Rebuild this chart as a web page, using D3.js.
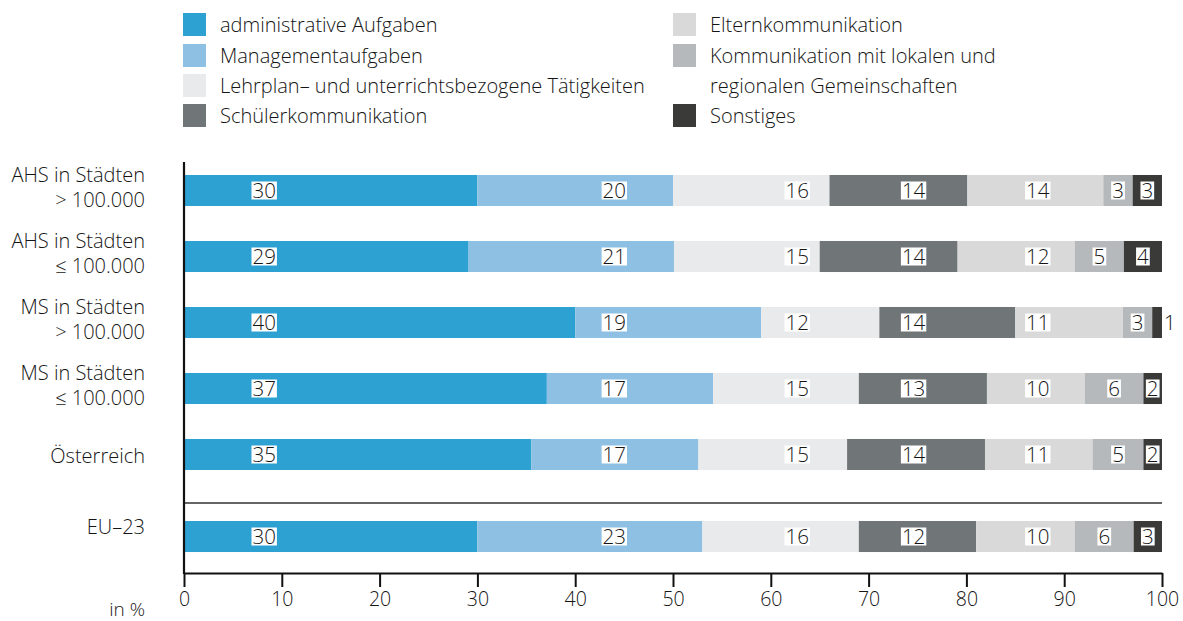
<!DOCTYPE html>
<html>
<head>
<meta charset="utf-8">
<script src="https://cdn.jsdelivr.net/npm/d3@7"></script>
<style>
  body { margin: 0; background: #fff; }
  svg text { font-family: "Open Sans", sans-serif; font-weight: 350; fill: #151515; }
</style>
</head>
<body>
<svg id="chart" width="1183" height="621"></svg>
<script>
// ---------- data ----------
const categories = [
  ["AHS in Städten", "> 100.000"],
  ["AHS in Städten", "≤ 100.000"],
  ["MS in Städten", "> 100.000"],
  ["MS in Städten", "≤ 100.000"],
  ["Österreich"],
  ["EU–23"]
];
const categoryKeys = ["AHS>", "AHS<=", "MS>", "MS<=", "AT", "EU"];
const mainGroup = ["AHS>", "AHS<=", "MS>", "MS<=", "AT"];
const compareGroup = ["EU"];

const seriesNames = [
  "administrative Aufgaben",
  "Managementaufgaben",
  "Lehrplan– und unterrichtsbezogene Tätigkeiten",
  "Schülerkommunikation",
  "Elternkommunikation",
  "Kommunikation mit lokalen und\nregionalen Gemeinschaften",
  "Sonstiges"
];
const seriesColors = ["#2ea1d3", "#8dc0e2", "#e9eaec", "#707577", "#d9d9d9", "#b6b9bc", "#3a3a38"];

// segment values per category (%)
const valuesAHSbig   = [30.0, 20.0, 16.0, 14.1, 13.9, 3.0, 3.0];
const valuesAHSsmall = [29.1, 21.0, 14.9, 14.1, 12.0, 5.0, 3.9];
const valuesMSbig    = [40.0, 19.0, 12.1, 13.9, 11.0, 3.0, 1.0];
const valuesMSsmall  = [37.1, 17.0, 14.9, 13.1, 10.0, 6.0, 1.9];
const valuesAT       = [35.5, 17.1, 15.2, 14.1, 11.0, 5.2, 1.9];
const valuesEU       = [30.0, 23.0, 16.0, 12.0, 10.1, 6.0, 2.9];
// printed labels
const labelsAHSbig   = ["30", "20", "16", "14", "14", "3", "3"];
const labelsAHSsmall = ["29", "21", "15", "14", "12", "5", "4"];
const labelsMSbig    = ["40", "19", "12", "14", "11", "3", "1"];
const labelsMSsmall  = ["37", "17", "15", "13", "10", "6", "2"];
const labelsAT       = ["35", "17", "15", "14", "11", "5", "2"];
const labelsEU       = ["30", "23", "16", "12", "10", "6", "3"];

const xTicks = [0, 10, 20, 30, 40, 50, 60, 70, 80, 90, 100];
const axisUnit = "in %";

const allValues = [valuesAHSbig, valuesAHSsmall, valuesMSbig, valuesMSsmall, valuesAT, valuesEU];
const allLabels = [labelsAHSbig, labelsAHSsmall, labelsMSbig, labelsMSsmall, labelsAT, labelsEU];

// ---------- layout ----------
const svg = d3.select("#chart");
const x = d3.scaleLinear().domain([0, 100]).range([184, 1162]);
const yMain = d3.scaleBand().domain(mainGroup).range([157.5, 487.5]).paddingInner(0.53).paddingOuter(0.265);
const yComp = d3.scaleBand().domain(compareGroup).range([505, 568]).paddingInner(0).paddingOuter(0.516);
const yPos = k => mainGroup.includes(k) ? yMain(k) : yComp(k);
const bandH = yMain.bandwidth();

// stacked rows
const rows = categoryKeys.map((k, i) => {
  let acc = 0;
  return allValues[i].map((v, j) => {
    const seg = { key: k, series: j, x0: acc, x1: acc + v, label: allLabels[i][j] };
    acc += v;
    return seg;
  });
});

// bars
const gBars = svg.append("g");
rows.forEach(row => {
  gBars.selectAll(null).data(row).enter().append("rect")
    .attr("x", d => x(d.x0))
    .attr("y", d => yPos(d.key))
    .attr("width", d => x(d.x1) - x(d.x0))
    .attr("height", bandH)
    .attr("fill", d => seriesColors[d.series]);
});

// value labels with white boxes
const labelColumns = [8.2, 44, 62.7, 74.6, 87.3]; // fixed label positions (in %) for the first five series
const gLab = svg.append("g");
rows.forEach(row => {
  row.forEach(d => {
    const cy = yPos(d.key) + bandH / 2;
    const g = gLab.append("g");
    const t = g.append("text")
      .attr("text-anchor", "middle")
      .attr("y", cy)
      .attr("dy", "0.36em")
      .style("font-size", "20.5px")
      .text(d.label);
    const w = t.node().getComputedTextLength();
    let cx;
    if (d.series < labelColumns.length) {
      cx = x(labelColumns[d.series]);
    } else {
      const segW = x(d.x1) - x(d.x0);
      cx = segW >= w + 2 ? (x(d.x0) + x(d.x1)) / 2 : x(d.x1) + 1 + w / 2 + 1;
    }
    t.attr("x", cx);
    g.insert("rect", "text")
      .attr("x", cx - w / 2 - 1)
      .attr("y", cy - 9)
      .attr("width", w + 2)
      .attr("height", 18)
      .attr("fill", "#fff");
  });
});

// separator line between groups
svg.append("line")
  .attr("x1", x(0)).attr("x2", x(100))
  .attr("y1", 503).attr("y2", 503)
  .attr("stroke", "#333").attr("stroke-width", 1.5);

// x axis
const axisY = 573;
const gx = svg.append("g").attr("transform", `translate(0,${axisY})`)
  .call(d3.axisBottom(x).tickValues(xTicks).tickSize(14).tickSizeOuter(0).tickPadding(5));
gx.select(".domain").attr("stroke", "#111").attr("stroke-width", 2.2);
gx.selectAll(".tick line").attr("stroke", "#111").attr("stroke-width", 2);
gx.selectAll(".tick text").style("font-size", "19.5px").style("font-family", "Open Sans, sans-serif")
  .style("font-weight", 350).attr("fill", "#151515");

// y axis line
svg.append("line")
  .attr("x1", x(0)).attr("x2", x(0))
  .attr("y1", 162).attr("y2", axisY + 1)
  .attr("stroke", "#111").attr("stroke-width", 2.2);

// category labels
const gCat = svg.append("g");
categoryKeys.forEach((k, i) => {
  const lines = categories[i];
  const cy = yPos(k) + bandH / 2;
  lines.forEach((ln, li) => {
    let ly;
    if (lines.length === 2) ly = cy + (li === 0 ? -16 : 9);
    else ly = mainGroup.includes(k) ? cy + 1 : cy - 9.5;
    gCat.append("text")
      .attr("x", 145)
      .attr("y", ly)
      .attr("dy", "0.36em")
      .attr("text-anchor", "end")
      .style("font-size", "20px")
      .text(ln);
  });
});

// unit label
svg.append("text")
  .attr("x", 145).attr("y", 609).attr("dy", "0.36em")
  .attr("text-anchor", "end")
  .style("font-size", "19px")
  .text(axisUnit);

// legend
const legendCol = [0, 0, 0, 0, 1, 1, 1];
const legendRow = [0, 1, 2, 3, 0, 1, 3];
const colX = [183, 673];
const rowTop = [13, 44, 74, 104];
const gLeg = svg.append("g");
seriesNames.forEach((name, i) => {
  const sx = colX[legendCol[i]];
  const sy = rowTop[legendRow[i]];
  gLeg.append("rect").attr("x", sx).attr("y", sy).attr("width", 23).attr("height", 23)
    .attr("fill", seriesColors[i]);
  name.split("\n").forEach((ln, li) => {
    gLeg.append("text")
      .attr("x", sx + 37)
      .attr("y", sy + 11.5 + li * 30)
      .attr("dy", "0.36em")
      .style("font-size", "20px")
      .text(ln);
  });
});
</script>
</body>
</html>
